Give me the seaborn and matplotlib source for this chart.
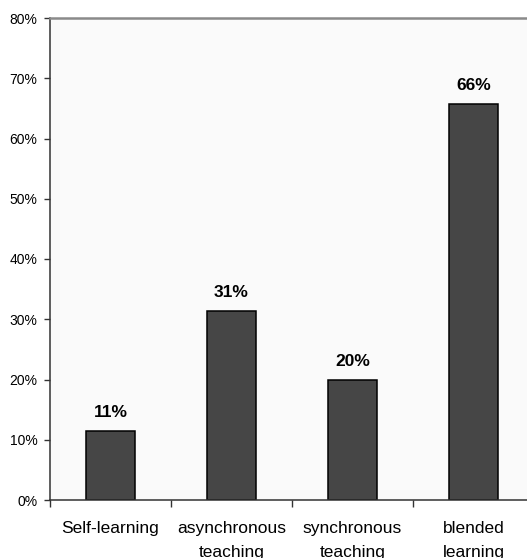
import matplotlib
matplotlib.use("Agg")
import matplotlib.pyplot as plt
from matplotlib.ticker import FuncFormatter, FixedLocator
import seaborn as sns
import pandas as pd

categories = ["Self-learning", "asynchronous\nteaching", "synchronous\nteaching", "blended\nlearning"]
shares = [11.4, 31.4, 19.9, 65.7]
y_ticks = [0, 10, 20, 30, 40, 50, 60, 70, 80]

sns.set_theme(style="white")
plt.rcParams["font.family"] = ["Liberation Sans", "DejaVu Sans"]

df = pd.DataFrame({"method": categories, "share": shares})

fig = plt.figure(figsize=(5.27, 5.58), dpi=100)
ax = fig.add_axes([50 / 527, 58 / 558, 484 / 527, 482 / 558])
ax.set_facecolor("#fafafa")

sns.barplot(data=df, x="method", y="share", ax=ax, color="#464646",
            saturation=1, width=0.41, edgecolor="black", linewidth=1.1)

for patch, val in zip(ax.patches, shares):
    ax.annotate(f"{val:.0f}%", (patch.get_x() + patch.get_width() / 2, patch.get_height()),
                xytext=(0, 8), textcoords="offset points", ha="center", va="bottom",
                fontsize=12.5, fontweight="bold", color="black")

ax.set_xlim(-0.5, 3.5)
ax.set_ylim(0, 80)
ax.set_yticks(y_ticks)
ax.yaxis.set_major_formatter(FuncFormatter(lambda v, _: f"{v:.0f}%"))
ax.tick_params(axis="y", left=True, length=4, width=1, color="#333333",
               labelsize=10, pad=5, labelcolor="black")

# boundary ticks between groups, labels centred under bars
ax.xaxis.set_major_locator(FixedLocator([-0.5, 0.5, 1.5, 2.5, 3.5]))
ax.xaxis.set_minor_locator(FixedLocator(range(len(categories))))
ax.set_xticklabels([], minor=False)
ax.set_xticklabels(categories, minor=True, fontsize=12.5)
for lbl in ax.get_xticklabels(minor=True):
    lbl.set_linespacing(1.75)
ax.tick_params(axis="x", which="major", bottom=True, length=5, width=1, color="#333333")
ax.tick_params(axis="x", which="minor", bottom=True, length=0, pad=15, labelcolor="black")

ax.set_xlabel("")
ax.set_ylabel("")

for side in ["left", "bottom"]:
    ax.spines[side].set_visible(True)
    ax.spines[side].set_color("#333333")
    ax.spines[side].set_linewidth(1.1)
ax.spines["top"].set_visible(True)
ax.spines["top"].set_color("#8a8a8a")
ax.spines["top"].set_linewidth(1.8)
ax.spines["right"].set_visible(False)

fig.savefig("out.png", dpi=100, facecolor="white")
